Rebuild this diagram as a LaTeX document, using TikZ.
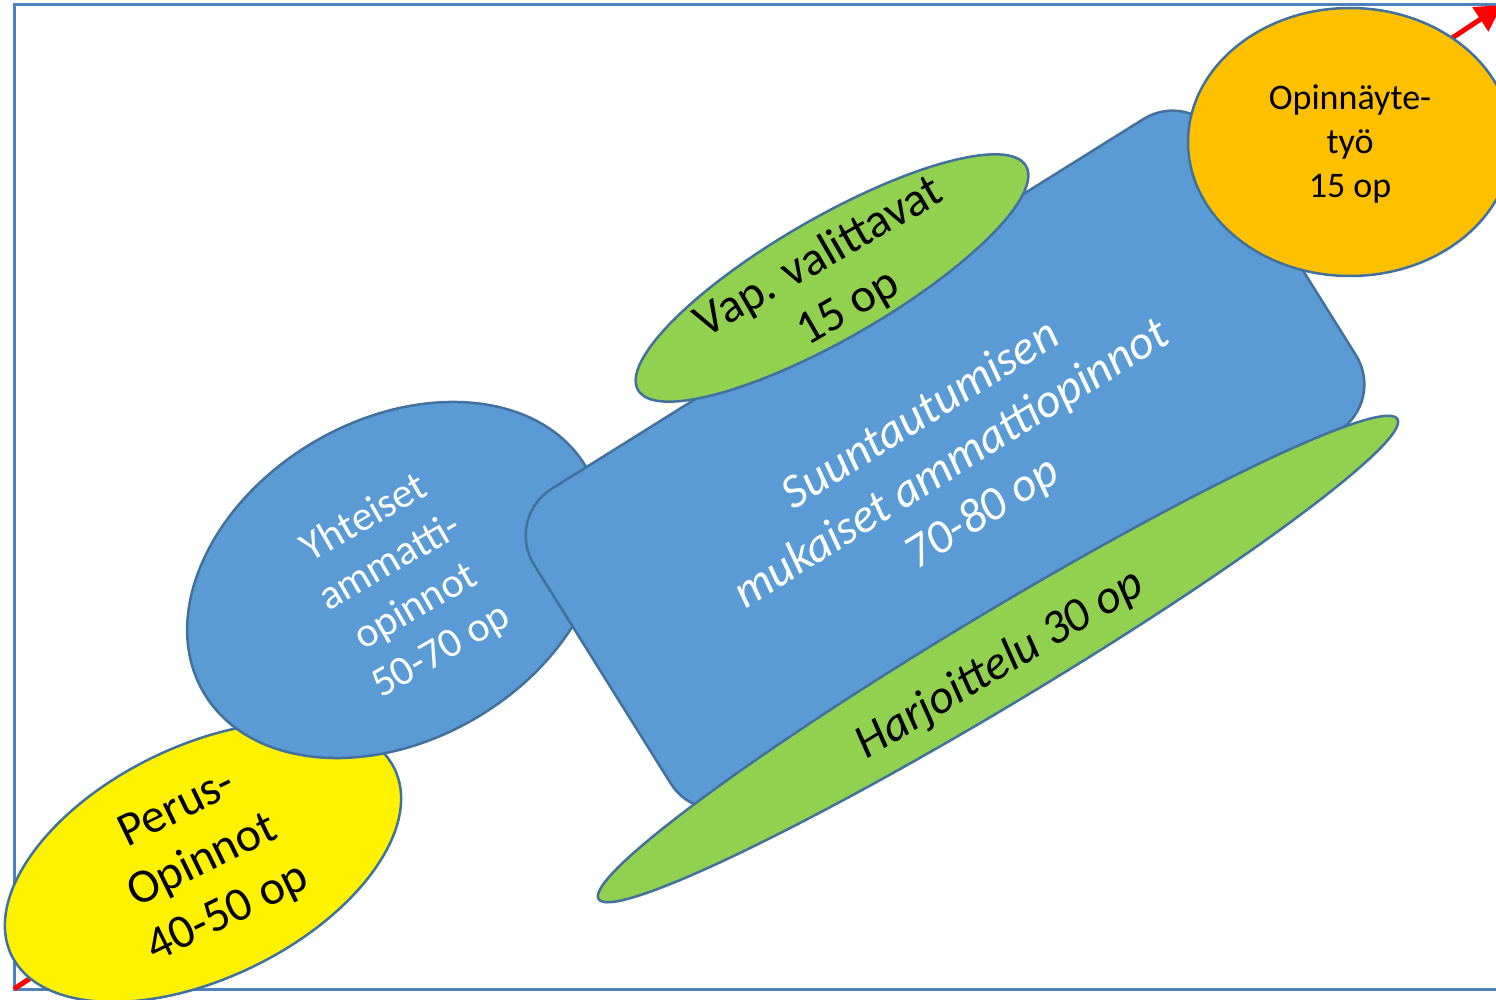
\documentclass[tikz,border=0pt]{standalone}
\usepackage{fontspec}
\setmainfont{Carlito}
\usetikzlibrary{shapes.geometric,arrows.meta}
\definecolor{outline}{RGB}{65,113,156}
\definecolor{framecol}{RGB}{79,129,189}
\definecolor{bluefill}{RGB}{91,155,213}
\definecolor{greenfill}{RGB}{146,208,80}
\definecolor{orangefill}{RGB}{255,192,0}
\newcommand{\bigtext}{\fontsize{48}{58}\selectfont}
\newcommand{\midtext}{\fontsize{42}{51}\selectfont}
\newcommand{\smalltext}{\fontsize{36}{44}\selectfont}
\tikzset{
  shapeline/.style={draw=outline, line width=2.5pt},
  bubble/.style={ellipse, shapeline, inner sep=0pt},
  caption/.style={align=center, inner sep=0pt},
}
\begin{document}
\begin{tikzpicture}[x=1pt, y=-1pt]
 \useasboundingbox (0,0) rectangle (1496,1000);
 % frame and the red diagonal
 \draw[framecol, line width=3pt] (14,5) rectangle (1510,989);
 \coordinate (start) at (14,989);
 \coordinate (finish) at (1502,5);
 \draw[red, line width=5pt, -{Triangle[length=26pt,width=28pt]}] (start) -- (finish);
 %
 \node[bubble, fill=yellow, minimum width=426pt, minimum height=232pt, rotate=26] (perus) at (203,862) {};
 \node[caption, font=\bigtext, rotate=26] (perustxt) at (perus.center) {Perus-\\Opinnot\\40-50 op};
 %
 \node[bubble, fill=bluefill, minimum width=444pt, minimum height=320pt, rotate=30.5] (yhteiset) at (395,580) {};
 \node[caption, font=\midtext, text=white, rotate=30] (yhteisettxt) at (403,585) {Yhteiset\\ammatti-\\opinnot\\50-70 op};
 %
 \node[shapeline, fill=bluefill, rounded corners=55pt, minimum width=808pt, minimum height=368pt, inner sep=0pt, rotate=32] (suunta) at (945,460) {};
 \node[caption, font=\bigtext\itshape, text=white, rotate=32] (suuntatxt) at (952,465) {Suuntautumisen\\mukaiset ammattiopinnot\\70-80 op};
 %
 \node[bubble, fill=greenfill, minimum width=448pt, minimum height=121pt, rotate=30] (vap) at (832,278) {};
 \node[caption, font=\bigtext, rotate=30] (vaptxt) at (834,283) {Vap. valittavat\\15 op};
 %
 \node[bubble, fill=greenfill, minimum width=932pt, minimum height=92pt, rotate=31] (harj) at (998,659) {};
 \node[caption, font=\bigtext\itshape, rotate=31] (harjtxt) at (1000,665) {Harjoittelu 30 op};
 %
 \node[bubble, fill=orangefill, minimum width=324pt, minimum height=268pt] (opinn) at (1350,142) {};
 \node[caption, font=\smalltext] (opinntxt) at (1350,144) {Opinnäyte-\\työ\\15 op};
\end{tikzpicture}
\end{document}
